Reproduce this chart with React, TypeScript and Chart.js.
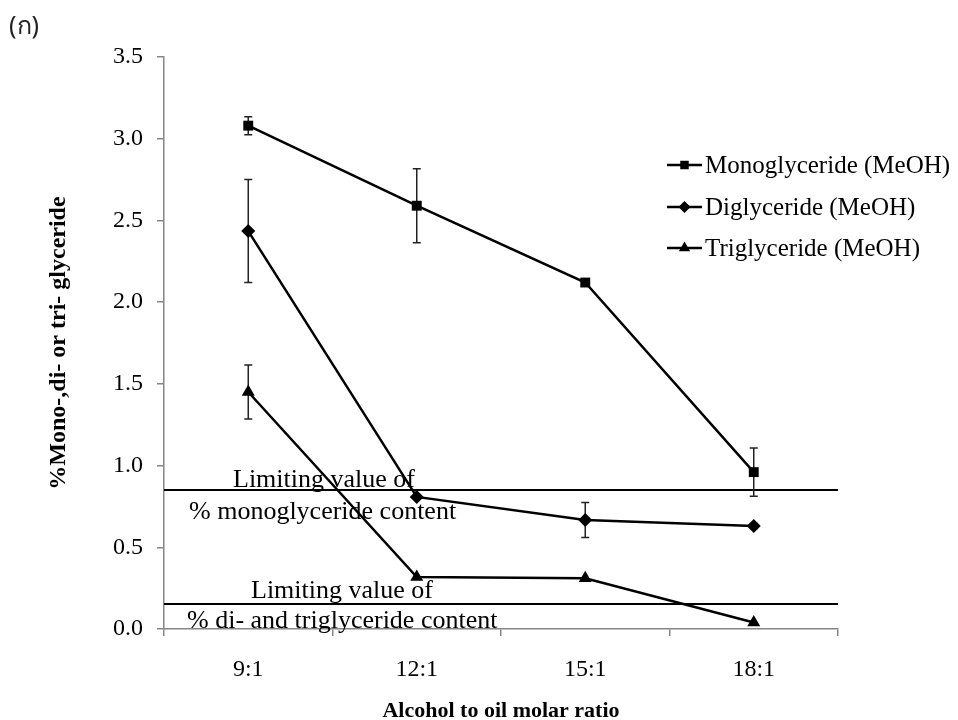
import React, { useEffect, useRef } from "react";
import { Chart, registerables } from "chart.js";

Chart.register(...registerables);

const categories = ["9:1", "12:1", "15:1", "18:1"];
const seriesLabels = ["Monoglyceride (MeOH)", "Diglyceride (MeOH)", "Triglyceride (MeOH)"];
const monoValues = [3.08, 2.59, 2.12, 0.96];
const monoErrors = [0.055, 0.226, 0, 0.147];
const diValues = [2.435, 0.808, 0.667, 0.63];
const diErrors = [0.315, 0, 0.107, 0.015];
const triValues = [1.45, 0.318, 0.31, 0.04];
const triErrors = [0.165, 0, 0, 0];
const limitValues = [0.85, 0.15];
const limitTopLabels = ["Limiting value of", "Limiting value of"];
const limitBottomLabels = ["% monoglyceride content", "% di- and triglyceride content"];
const yMin = 0;
const yMax = 3.5;
const yStep = 0.5;
const xTitle = "Alcohol to oil molar ratio";
const yTitle = "%Mono-,di- or tri- glyceride";
const panelLabel = "(ก)";

const SERIF = "'Liberation Serif', 'Times New Roman', serif";
const AXIS_GRAY = "#868686";
const pointStyles = ["rect", "rectRot", "triangle"] as const;
const pointRadii = [7, 7, 7.5];
const errorSets = [monoErrors, diErrors, triErrors];

function drawMarker(ctx: CanvasRenderingContext2D, style: string, x: number, y: number, r: number) {
  ctx.beginPath();
  if (style === "rect") {
    const s = r * Math.SQRT1_2;
    ctx.rect(x - s, y - s, 2 * s, 2 * s);
  } else if (style === "rectRot") {
    ctx.moveTo(x, y - r);
    ctx.lineTo(x + r, y);
    ctx.lineTo(x, y + r);
    ctx.lineTo(x - r, y);
    ctx.closePath();
  } else {
    ctx.moveTo(x, y - r);
    ctx.lineTo(x + r * Math.sin((2 * Math.PI) / 3), y - r * Math.cos((2 * Math.PI) / 3));
    ctx.lineTo(x + r * Math.sin((4 * Math.PI) / 3), y - r * Math.cos((4 * Math.PI) / 3));
    ctx.closePath();
  }
  ctx.fill();
}

const decorPlugin = {
  id: "decor",
  beforeDatasetsDraw(chart: any) {
    const ctx = chart.ctx as CanvasRenderingContext2D;
    const { left, right } = chart.chartArea;
    const yScale = chart.scales.y;
    ctx.save();
    ctx.strokeStyle = "#000";
    ctx.lineWidth = 2;
    limitValues.forEach((v) => {
      const py = Math.round(yScale.getPixelForValue(v));
      ctx.beginPath();
      ctx.moveTo(left, py);
      ctx.lineTo(right, py);
      ctx.stroke();
    });
    ctx.strokeStyle = "#222";
    ctx.lineWidth = 1.5;
    chart.data.datasets.forEach((ds: any, i: number) => {
      const meta = chart.getDatasetMeta(i);
      const errs = errorSets[i];
      meta.data.forEach((pt: any, j: number) => {
        const e = errs[j];
        if (!e) return;
        const v = ds.data[j];
        const x = pt.x;
        const yt = yScale.getPixelForValue(v + e);
        const yb = yScale.getPixelForValue(v - e);
        ctx.beginPath();
        ctx.moveTo(x, yt);
        ctx.lineTo(x, yb);
        ctx.moveTo(x - 4, yt);
        ctx.lineTo(x + 4, yt);
        ctx.moveTo(x - 4, yb);
        ctx.lineTo(x + 4, yb);
        ctx.stroke();
      });
    });
    ctx.restore();
  },
  afterDatasetsDraw(chart: any) {
    const ctx = chart.ctx as CanvasRenderingContext2D;
    const { left } = chart.chartArea;
    const yScale = chart.scales.y;
    ctx.save();
    ctx.fillStyle = "#000";
    ctx.font = `26px ${SERIF}`;
    ctx.textAlign = "left";
    ctx.textBaseline = "alphabetic";
    const topOffsets = [[69, -3], [87, -6]];
    const bottomOffsets = [[25, 29], [23, 24]];
    limitValues.forEach((v, i) => {
      const py = yScale.getPixelForValue(v);
      ctx.fillText(limitTopLabels[i], left + topOffsets[i][0], py + topOffsets[i][1]);
      ctx.fillText(limitBottomLabels[i], left + bottomOffsets[i][0], py + bottomOffsets[i][1]);
    });
    ctx.restore();
  },
  afterDraw(chart: any) {
    const ctx = chart.ctx as CanvasRenderingContext2D;
    ctx.save();
    const lx0 = 667;
    const lx1 = 702;
    const rows = [165, 207, 248];
    ctx.font = `25px ${SERIF}`;
    ctx.textAlign = "left";
    ctx.textBaseline = "middle";
    seriesLabels.forEach((label, i) => {
      const y = rows[i];
      ctx.strokeStyle = "#000";
      ctx.lineWidth = 2.5;
      ctx.beginPath();
      ctx.moveTo(lx0, y);
      ctx.lineTo(lx1, y);
      ctx.stroke();
      ctx.fillStyle = "#000";
      drawMarker(ctx, pointStyles[i], (lx0 + lx1) / 2, y, pointRadii[i] - 1);
      ctx.fillText(label, 705, y + 1);
    });
    ctx.font = `25px 'Noto Sans', 'DejaVu Sans', sans-serif`;
    ctx.textBaseline = "alphabetic";
    ctx.fillStyle = "#222";
    ctx.fillText(panelLabel, 9, 34);
    ctx.restore();
  },
};

export default function App() {
  const ref = useRef<HTMLCanvasElement | null>(null);

  useEffect(() => {
    if (!ref.current) return;
    const seriesData = [monoValues, diValues, triValues];
    const chart = new Chart(ref.current, {
      type: "line",
      data: {
        labels: categories,
        datasets: seriesData.map((d, i) => ({
          label: seriesLabels[i],
          data: d,
          borderColor: "#000",
          backgroundColor: "#000",
          borderWidth: 2.5,
          pointStyle: pointStyles[i],
          pointRadius: pointRadii[i],
          pointBorderWidth: 0,
          pointBackgroundColor: "#000",
          tension: 0,
          clip: false as any,
        })),
      },
      options: {
        responsive: false,
        animation: false,
        devicePixelRatio: 1,
        layout: { padding: { left: 40, top: 57, right: 120, bottom: 0 } },
        plugins: {
          legend: { display: false },
          tooltip: { enabled: false },
          title: { display: false },
        },
        scales: {
          x: {
            type: "category",
            offset: true,
            grid: {
              display: true,
              drawOnChartArea: false,
              drawTicks: true,
              tickLength: 7,
              color: AXIS_GRAY,
              lineWidth: 1.5,
              offset: true,
            },
            border: { display: true, color: AXIS_GRAY, width: 1.5 },
            ticks: {
              color: "#000",
              padding: 19,
              font: { family: SERIF, size: 24 },
              maxRotation: 0,
            },
            title: {
              display: true,
              text: xTitle,
              color: "#000",
              font: { family: SERIF, size: 22, weight: "bold" },
              padding: { top: 0, bottom: -5 },
            },
            afterFit: (scale: any) => {
              scale.height = 91;
            },
          },
          y: {
            type: "linear",
            min: yMin,
            max: yMax,
            grid: {
              display: true,
              drawOnChartArea: false,
              drawTicks: true,
              tickLength: 7,
              color: AXIS_GRAY,
              lineWidth: 1.5,
            },
            border: { display: true, color: AXIS_GRAY, width: 1.5 },
            ticks: {
              stepSize: yStep,
              color: "#000",
              padding: 14,
              font: { family: SERIF, size: 24 },
              callback: (v: any) => Number(v).toFixed(1),
            },
            title: {
              display: true,
              text: yTitle,
              color: "#000",
              font: { family: SERIF, size: 24, weight: "bold" },
              padding: { top: 4, bottom: 0 },
            },
            afterFit: (scale: any) => {
              scale.width = 124;
            },
          },
        },
      },
      plugins: [decorPlugin],
    });
    return () => chart.destroy();
  }, []);

  return (
    <div style={{ position: "fixed", left: 0, top: 0, width: 958, height: 720, background: "#fff" }}>
      <canvas ref={ref} width={958} height={720} style={{ display: "block" }} />
    </div>
  );
}
